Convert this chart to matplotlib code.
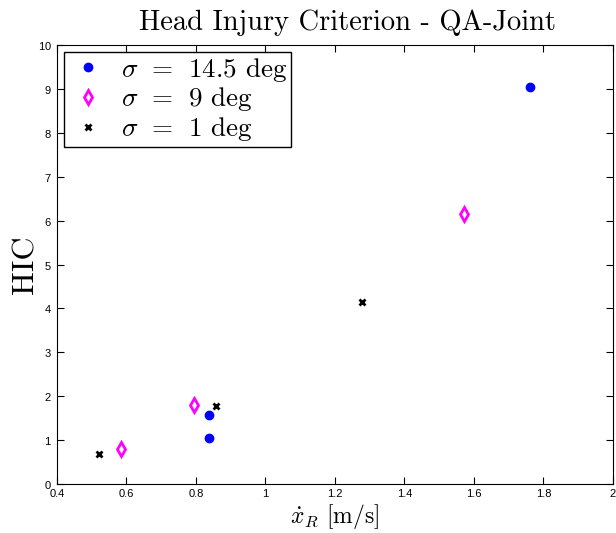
import numpy as np
import matplotlib
matplotlib.use('Agg')
import matplotlib.pyplot as plt

#------------------------------------------------------------------------------

plt.rcParams['mathtext.fontset'] = 'cm'
plt.rcParams['axes.formatter.use_mathtext'] = True

# sigma = 14.5 deg
x_145 = [1.76, 0.837, 0.837]
y_145 = [9.05, 1.57, 1.055]

# sigma = 9 deg
x_9 = [1.571, 0.794, 0.585]
y_9 = [6.14, 1.80, 0.79]

# sigma = 1 deg
x_1 = [0.522, 0.858, 1.277]
y_1 = [0.68, 1.78, 4.14]

xticks = [0.4, 0.6, 0.8, 1, 1.2, 1.4, 1.6, 1.8, 2]
xtick_labels = ['0.4', '0.6', '0.8', '1', '1.2', '1.4', '1.6', '1.8', '2']
yticks = np.arange(0, 11)

#------------------------------------------------------------------------------

fig = plt.figure(figsize=(6.16, 5.33), dpi=100)
ax = fig.add_axes([0.0925, 0.0919, 0.9026, 0.8236])

ax.plot(x_145, y_145, 'o', color='#0000ff', markersize=6, linestyle='none',
        label=r'$\sigma\;\,=\;\,14.5$ deg')
ax.plot(x_9, y_9, 'd', color='#ff00ff', markerfacecolor='white', markersize=7,
        markeredgewidth=2, linestyle='none', label=r'$\sigma\;\,=\;\,9$ deg')
ax.plot(x_1, y_1, 'x', color='black', markersize=4, markeredgewidth=2,
        linestyle='none', label=r'$\sigma\;\,=\;\,1$ deg')

ax.set_xlim(0.4, 2)
ax.set_ylim(0, 10)
ax.set_xticks(xticks)
ax.set_xticklabels(xtick_labels)
ax.set_yticks(yticks)
ax.tick_params(direction='in', top=True, right=True, labelsize=8, length=5)
for lbl in ax.get_xticklabels() + ax.get_yticklabels():
    lbl.set_family('Liberation Sans')

ax.set_title('Head Injury Criterion - QA-Joint', family='cmr10', fontsize=20.5,
             pad=11, x=0.523)
ax.set_xlabel(r'$\dot{x}_R$ [m/s]', family='cmr10', fontsize=17, labelpad=2)
ax.set_ylabel('HIC', family='cmr10', fontsize=23, labelpad=-1)

leg = ax.legend(loc='upper left', prop={'family': 'cmr10', 'size': 19.5},
                fancybox=False, edgecolor='black', framealpha=1,
                borderaxespad=0.25, handletextpad=0.45, labelspacing=0.06,
                borderpad=0.15, handlelength=1.5)
leg.get_frame().set_linewidth(1)

fig.savefig('out.png', dpi=100)
